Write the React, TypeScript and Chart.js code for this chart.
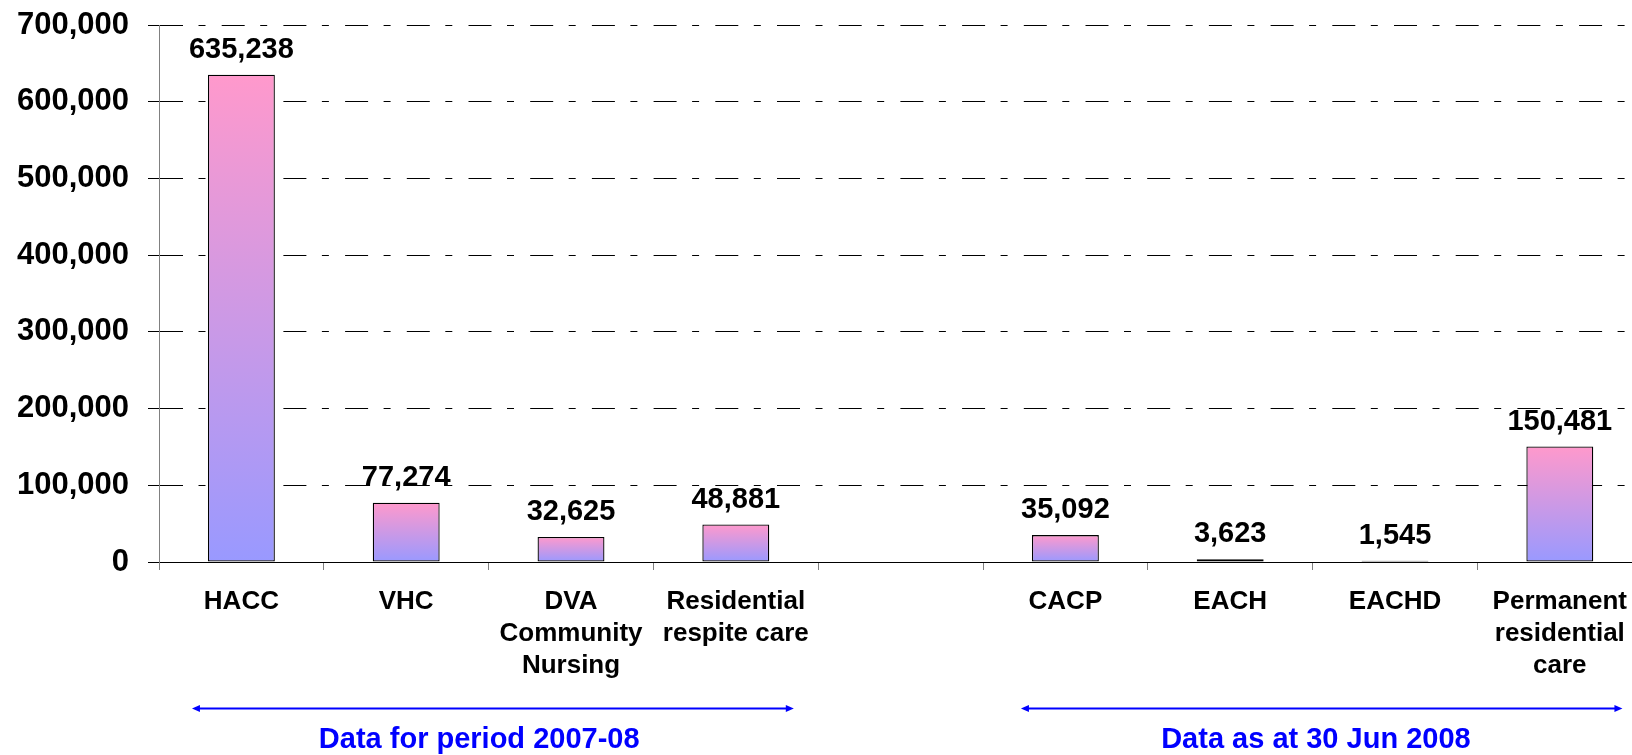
import React, { useEffect, useRef } from "react";
import { Chart, registerables } from "chart.js";

Chart.register(...registerables);

const categories: string[][] = [
  ["HACC"],
  ["VHC"],
  ["DVA", "Community", "Nursing"],
  ["Residential", "respite care"],
  [""],
  ["CACP"],
  ["EACH"],
  ["EACHD"],
  ["Permanent", "residential", "care"],
];

const values: (number | null)[] = [635238, 77274, 32625, 48881, null, 35092, 3623, 1545, 150481];

const yTickMin = 0;
const yTickMax = 700000;
const yTickStep = 100000;

const groupLabels = ["Data for period 2007-08", "Data as at 30 Jun 2008"];

const FONT = '"Liberation Sans", Arial, Helvetica, sans-serif';
const fmt = (v: number) => Math.round(v).toLocaleString("en-US");

const valueLabelPlugin = {
  id: "valueLabels",
  afterDatasetsDraw(chart: any) {
    const ctx = chart.ctx;
    const meta = chart.getDatasetMeta(0);
    ctx.save();
    ctx.font = `bold 29px ${FONT}`;
    ctx.fillStyle = "#000";
    ctx.textAlign = "center";
    ctx.textBaseline = "alphabetic";
    meta.data.forEach((bar: any, i: number) => {
      const v = values[i];
      if (v == null) return;
      ctx.fillText(fmt(v), bar.x, bar.y - 17);
    });
    ctx.restore();
  },
};

const groupPlugin = {
  id: "groups",
  afterDraw(chart: any) {
    const { ctx, chartArea } = chart;
    const x = chart.scales.x;
    const c = (i: number) => x.getPixelForValue(i);
    const s = c(1) - c(0);
    const groups = [
      { from: c(0) - 0.3 * s, to: c(3) + 0.352 * s, mid: c(1) + 0.443 * s, text: groupLabels[0] },
      { from: c(5) - 0.27 * s, to: c(8) + 0.38 * s, mid: c(6) + 0.52 * s, text: groupLabels[1] },
    ];
    const ay = chartArea.bottom + 146.5;
    const ty = chartArea.bottom + 186;
    ctx.save();
    ctx.strokeStyle = "#0000FF";
    ctx.fillStyle = "#0000FF";
    ctx.lineWidth = 2;
    groups.forEach((g) => {
      const head = 8;
      const hh = 3.5;
      ctx.beginPath();
      ctx.moveTo(g.from + head - 1, ay);
      ctx.lineTo(g.to - head + 1, ay);
      ctx.stroke();
      ctx.beginPath();
      ctx.moveTo(g.from, ay);
      ctx.lineTo(g.from + head, ay - hh);
      ctx.lineTo(g.from + head, ay + hh);
      ctx.closePath();
      ctx.fill();
      ctx.beginPath();
      ctx.moveTo(g.to, ay);
      ctx.lineTo(g.to - head, ay - hh);
      ctx.lineTo(g.to - head, ay + hh);
      ctx.closePath();
      ctx.fill();
      ctx.font = `bold 29px ${FONT}`;
      ctx.textAlign = "center";
      ctx.textBaseline = "alphabetic";
      ctx.fillText(g.text, g.mid, ty);
    });
    ctx.restore();
  },
};

export default function App() {
  const ref = useRef<HTMLCanvasElement | null>(null);

  useEffect(() => {
    if (!ref.current) return;
    const chart = new Chart(ref.current, {
      type: "bar",
      data: {
        labels: categories as any,
        datasets: [
          {
            data: values as any,
            backgroundColor: (c: any) => {
              const ch = c.chart;
              if (!ch.chartArea || c.type !== "data" || c.raw == null) return "#CC99E6";
              const y = ch.scales.y;
              const top = y.getPixelForValue(c.raw);
              const bottom = y.getPixelForValue(0);
              if (bottom - top < 1) return "#9999FF";
              const g = ch.ctx.createLinearGradient(0, top, 0, bottom);
              g.addColorStop(0, "#FF99CC");
              g.addColorStop(1, "#9999FF");
              return g;
            },
            borderColor: "#000000",
            borderWidth: 1.3,
            borderSkipped: false,
            barPercentage: 0.406,
            categoryPercentage: 1,
          } as any,
        ],
      },
      options: {
        responsive: false,
        animation: false,
        devicePixelRatio: 1,
        layout: { padding: { top: 25, left: 0, right: 0, bottom: 0 } },
        plugins: {
          legend: { display: false },
          tooltip: { enabled: false },
          title: { display: false },
        },
        scales: {
          x: {
            offset: true,
            grid: {
              display: true,
              drawOnChartArea: false,
              drawTicks: true,
              tickLength: 8,
              tickColor: "#808080",
              offset: true,
            },
            border: { color: "#000000", width: 1 },
            ticks: {
              color: "#000000",
              font: { family: FONT, size: 26, weight: "bold", lineHeight: 32 / 26 },
              padding: 16,
              maxRotation: 0,
              minRotation: 0,
              autoSkip: false,
            },
            afterFit: (s: any) => {
              s.height = 193;
            },
          },
          y: {
            min: yTickMin,
            max: yTickMax,
            ticks: {
              stepSize: yTickStep,
              color: "#000000",
              font: { family: FONT, size: 31, weight: "bold" },
              padding: 19,
              callback: (v: any) => fmt(Number(v)),
            },
            grid: {
              color: "#000000",
              lineWidth: 1,
              tickLength: 11,
              tickColor: "#000000",
            },
            border: { color: "#808080", width: 1, dash: [23, 15.5, 7, 16.2] },
            afterFit: (s: any) => {
              s.width = 159;
              s.paddingTop = 0;
              s.paddingBottom = 0;
            },
          },
        },
      } as any,
      plugins: [valueLabelPlugin, groupPlugin],
    });
    return () => chart.destroy();
  }, []);

  return (
    <div
      style={{
        position: "fixed",
        left: 0,
        top: 0,
        width: 1632,
        height: 755,
        overflow: "hidden",
        background: "#fff",
      }}
    >
      <canvas ref={ref} width={1643} height={755} style={{ display: "block", width: 1643, height: 755 }} />
    </div>
  );
}
